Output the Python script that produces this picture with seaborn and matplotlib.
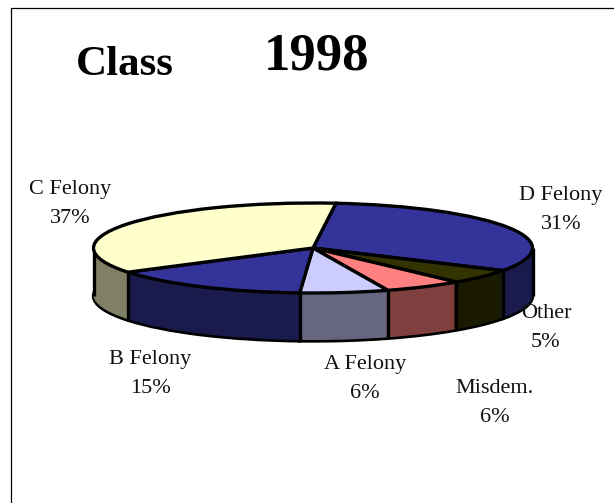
import numpy as np
import seaborn as sns
import matplotlib.pyplot as plt

# Class shares, 1998 (clockwise from the C/D seam at the back)
categories = ['D Felony', 'Other', 'Misdem.', 'A Felony', 'B Felony', 'C Felony']
percent_labels = [31, 5, 6, 6, 15, 37]
# slice sizes as they look in the tilted picture, a bit off the printed percentages
slice_sizes = [31.7, 5.3, 5.8, 6.5, 15.0, 35.7]
top_colors = ['#333399', '#333300', '#FF8080', '#CCCCFF', '#333399', '#FFFFCC']
side_colors = ['#1A1A4D', '#1A1A00', '#804040', '#666680', '#1A1A4D', '#808066']
label_centers = [(561, 210), (546, 328), (495, 403), (365, 379), (150, 374), (70, 204)]

W, H = 614, 503
CX, CY, RX, RY, DEPTH = 313, 248, 219.5, 45, 48
START = 84

sns.set_theme(style='white')
plt.rcParams['font.family'] = ['Liberation Serif', 'DejaVu Serif']

fig = plt.figure(figsize=(W / 100, H / 100), dpi=100, facecolor='white')
ax = fig.add_axes([0, 0, 1, 1])


def px(x, y):
    return x / W, 1 - y / H


def draw_pie(colors, offset, edge=None):
    ax.pie(slice_sizes, colors=colors, startangle=START, counterclock=False,
           center=(0, -offset / RY), radius=1,
           wedgeprops={'edgecolor': edge if edge else 'none', 'linewidth': 2.4 if edge else 0})


# side wall: bottom outline first, then stacked layers, then the top face
draw_pie(side_colors, DEPTH, edge='black')
for off in np.arange(DEPTH - 1, 0, -1):
    draw_pie(side_colors, off)

# vertical seams on the visible front of the wall
angles = START - np.cumsum(slice_sizes) / np.sum(slice_sizes) * 360
front_x = [np.cos(np.radians(a)) for a in angles if np.sin(np.radians(a)) < 0] + [-1, 1]
front_y = [np.sin(np.radians(a)) for a in angles if np.sin(np.radians(a)) < 0] + [0, 0]
ax.vlines(front_x, np.array(front_y) - DEPTH / RY, front_y, color='black', lw=2.4, zorder=5)

draw_pie(top_colors, 0, edge='black')
for patch in ax.patches[-len(slice_sizes):]:
    patch.set_zorder(6)

ax.set_aspect('auto')
ax.set_xlim(-CX / RX, (W - CX) / RX)
ax.set_ylim((CY - H) / RY, CY / RY)

for name, share, (lx, ly) in zip(categories, percent_labels, label_centers):
    x, y = px(lx, ly)
    fig.text(x, y, f'{name}\n{share}%', ha='center', va='center', ma='center',
             fontsize=16, linespacing=1.75, color='#111111', zorder=10)

x, y = px(125, 74.5)
fig.text(x, y, 'Class', ha='center', va='baseline', fontsize=31, fontweight='bold', color='black')
x, y = px(316, 70)
fig.text(x, y, '1998', ha='center', va='baseline', fontsize=38, fontweight='bold', color='black')

# chart frame: only left and top edges reach the crop
x0, y0 = px(10.5, 7.5)
fig.add_artist(plt.Line2D([x0, x0], [0, y0], color='black', lw=0.9))
fig.add_artist(plt.Line2D([x0, 1], [y0, y0], color='black', lw=0.9))

fig.savefig('out.png', dpi=100, facecolor='white')
